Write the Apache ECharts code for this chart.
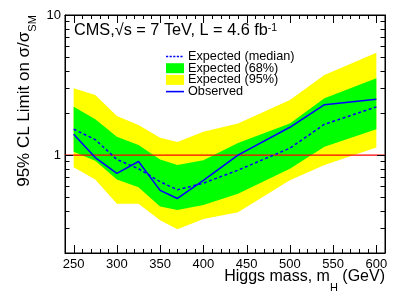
<!DOCTYPE html>
<html><head><meta charset="utf-8">
<script src="https://cdn.jsdelivr.net/npm/echarts@6/dist/echarts.min.js"></script>
<style>html,body{margin:0;padding:0;background:#fff}#c{width:407px;height:292px}</style>
</head><body><div id="c"></div>
<script>
const masses    = [250, 275, 300, 325, 350, 370, 400, 440, 500, 540, 600];
const observed  = [1.41, 0.96, 0.74, 0.90, 0.56, 0.49, 0.66, 1.00, 1.58, 2.29, 2.50];
const expected  = [1.53, 1.29, 0.93, 0.80, 0.645, 0.565, 0.63, 0.78, 1.12, 1.66, 2.21];
const band68Low = [1.056, 0.91, 0.67, 0.59, 0.43, 0.405, 0.44, 0.53, 0.80, 1.146, 1.53];
const band68High= [2.21, 1.80, 1.35, 1.18, 0.93, 0.85, 0.92, 1.22, 1.68, 2.54, 3.53];
const band95Low = [0.82, 0.67, 0.45, 0.45, 0.343, 0.295, 0.35, 0.39, 0.66, 0.85, 1.135];
const band95High= [3.0, 2.68, 1.90, 1.64, 1.33, 1.24, 1.47, 1.68, 2.47, 3.73, 5.38];
const referenceLevel = 1;
const xTickLabels = [250, 300, 350, 400, 450, 500, 550, 600];
const xMinorTicks = [240,260,270,280,290,310,320,330,340,360,370,380,390,410,420,430,440,460,470,480,490,510,520,530,540,560,570,580,590,610];
const yTickLabels = [1, 10];
const yMinorTicks = [0.2,0.3,0.4,0.5,0.6,0.7,0.8,0.9,2,3,4,5,6,7,8,9];
const X_MIN = 240, X_MAX = 610, Y_MIN = 0.2, Y_MAX = 10;
const FONT = 'Liberation Sans, Arial, Helvetica, sans-serif';

function band(name, lo, hi, color, z) {
  return {
    type: 'custom', name: name, coordinateSystem: 'cartesian2d', z: z, silent: true,
    itemStyle: { color: color },
    data: masses.map((m, i) => [m, lo[i], hi[i]]),
    encode: { x: 0, y: [1, 2] },
    renderItem: function (params, api) {
      if (params.dataIndex !== 0) return null;
      const pts = [];
      for (let i = 0; i < masses.length; i++) pts.push(api.coord([masses[i], hi[i]]));
      for (let i = masses.length - 1; i >= 0; i--) pts.push(api.coord([masses[i], lo[i]]));
      return { type: 'polygon', shape: { points: pts }, style: { fill: color, stroke: null } };
    }
  };
}

const solidIcon  = 'path://M0,0h18v1.6h-18z';
const dashedIcon = 'path://M0,0h2.2v1.6h-2.2z M3.6,0h2.2v1.6h-2.2z M7.2,0h2.2v1.6h-2.2z M10.8,0h2.2v1.6h-2.2z M14.4,0h2.2v1.6h-2.2z M18,0h0.01v1.6h-0.01z';

const chart = echarts.init(document.getElementById('c'), null, { renderer: 'canvas' });
chart.setOption({
  animation: false,
  backgroundColor: '#fff',
  textStyle: { fontFamily: FONT },
  grid: { left: 65, right: 22, top: 15, bottom: 39, show: true, borderColor: '#000', borderWidth: 1, backgroundColor: 'transparent' },
  title: {
    text: '{a|CMS,√s = 7 TeV, L = 4.6 fb}{sup|-1}',
    left: 74, top: 23, padding: 0,
    textStyle: {
      fontWeight: 'normal',
      rich: {
        a: { fontFamily: FONT, fontSize: 16.3, fontWeight: 'normal', color: '#000', lineHeight: 20, verticalAlign: 'top' },
        sup: { fontFamily: FONT, fontSize: 10.5, fontWeight: 'normal', color: '#000', lineHeight: 8, verticalAlign: 'top' }
      }
    }
  },
  legend: {
    orient: 'vertical', left: 166, top: 50, padding: 0, itemGap: -1.3,
    itemWidth: 18, itemHeight: 10,
    textStyle: { fontFamily: FONT, fontSize: 12.7, color: '#000', padding: [0, 0, 0, -1] },
    data: [
      { name: 'Expected (median)', icon: dashedIcon, itemStyle: { color: '#0000ff', borderWidth: 0 } },
      { name: 'Expected (68%)', icon: 'rect', itemStyle: { borderWidth: 0 } },
      { name: 'Expected (95%)', icon: 'rect', itemStyle: { borderWidth: 0 } },
      { name: 'Observed', icon: solidIcon, itemStyle: { color: '#0000ff', borderWidth: 0 } }
    ],
    selectedMode: false
  },
  xAxis: [
    { type: 'value', min: X_MIN, max: X_MAX, interval: 10, position: 'bottom',
      axisLine: { show: true, lineStyle: { color: '#000', width: 1 } },
      axisTick: { show: false }, splitLine: { show: false },
      axisLabel: { color: '#000', fontSize: 13, fontFamily: FONT, margin: 5,
        formatter: v => xTickLabels.indexOf(v) >= 0 ? String(v) : '' } },
    { type: 'value', min: X_MIN, max: X_MAX, interval: 10, position: 'top',
      axisLine: { show: true, lineStyle: { color: '#000' } }, axisTick: { show: false },
      axisLabel: { show: false }, splitLine: { show: false } }
  ],
  yAxis: [
    { type: 'log', logBase: 10, min: Y_MIN, max: Y_MAX,
      axisLine: { show: true, lineStyle: { color: '#000', width: 1 } },
      axisTick: { show: false }, splitLine: { show: false }, minorTick: { show: false },
      axisLabel: { color: '#000', fontSize: 13, fontFamily: FONT, margin: 4,
        formatter: v => yTickLabels.some(t => Math.abs(t - v) < 1e-6) ? String(Math.round(v)) : '' } },
    { type: 'log', logBase: 10, min: Y_MIN, max: Y_MAX, position: 'right',
      axisLine: { show: true, lineStyle: { color: '#000' } }, axisTick: { show: false },
      axisLabel: { show: false }, splitLine: { show: false } }
  ],
  graphic: [
    { type: 'text', x: 385, y: 269, silent: true,
      style: { text: '{a|Higgs mass, m}{sub|H}{a| (GeV)}', align: 'right', verticalAlign: 'top',
        rich: {
          a: { fontFamily: FONT, fontSize: 16, fill: '#000', lineHeight: 18, verticalAlign: 'top' },
          sub: { fontFamily: FONT, fontSize: 11, fill: '#000', lineHeight: 24, verticalAlign: 'bottom' }
        } } },
    { type: 'text', x: 16, y: 101, rotation: Math.PI / 2, silent: true,
      style: { text: '{a|95% CL Limit on σ/σ}{sub|SM}', align: 'center', verticalAlign: 'top',
        rich: {
          a: { fontFamily: FONT, fontSize: 17, fill: '#000', lineHeight: 18, verticalAlign: 'top' },
          sub: { fontFamily: FONT, fontSize: 11, fill: '#000', lineHeight: 22, verticalAlign: 'bottom' }
        } } }
  ],
  series: [
    band('Expected (95%)', band95Low, band95High, '#ffff00', 1),
    band('Expected (68%)', band68Low, band68High, '#00ff00', 2),
    { type: 'line', name: 'ref', z: 3, symbol: 'none', silent: true,
      data: [[X_MIN, referenceLevel], [X_MAX, referenceLevel]],
      itemStyle: { color: '#ff0000' },
      lineStyle: { color: '#ff0000', width: 1.3, type: 'solid' } },
    { type: 'line', name: 'Expected (median)', z: 4, symbol: 'none', silent: true,
      data: masses.map((m, i) => [m, expected[i]]),
      itemStyle: { color: '#0000ff' },
      lineStyle: { color: '#0000ff', width: 1.5, type: [3, 2.5] } },
    { type: 'line', name: 'Observed', z: 5, symbol: 'none', silent: true,
      data: masses.map((m, i) => [m, observed[i]]),
      itemStyle: { color: '#0000ff' },
      lineStyle: { color: '#0000ff', width: 1.5, type: 'solid' } },
    { type: 'custom', name: 'ticks', coordinateSystem: 'cartesian2d', z: 10, silent: true, clip: false,
      data: [[X_MIN, 1]], encode: { x: 0, y: 1 },
      renderItem: function (params, api) {
        const cs = params.coordSys;
        const top = cs.y, bot = cs.y + cs.height, left = cs.x, right = cs.x + cs.width;
        const ch = [];
        const st = { stroke: '#000', lineWidth: 1 };
        const addX = (v, len) => {
          const x = Math.round(api.coord([v, 1])[0]) + 0.5;
          ch.push({ type: 'line', shape: { x1: x, y1: bot, x2: x, y2: bot - len }, style: st });
          ch.push({ type: 'line', shape: { x1: x, y1: top, x2: x, y2: top + len }, style: st });
        };
        const addY = (v, len) => {
          const y = Math.round(api.coord([X_MIN, v])[1]) + 0.5;
          ch.push({ type: 'line', shape: { x1: left, y1: y, x2: left + len, y2: y }, style: st });
          ch.push({ type: 'line', shape: { x1: right, y1: y, x2: right - len, y2: y }, style: st });
        };
        xTickLabels.forEach(v => addX(v, 8));
        xMinorTicks.forEach(v => addX(v, 4));
        yTickLabels.forEach(v => addY(v, 8));
        yMinorTicks.forEach(v => addY(v, 4.5));
        return { type: 'group', children: ch };
      } }
  ]
});
</script>
</body></html>
